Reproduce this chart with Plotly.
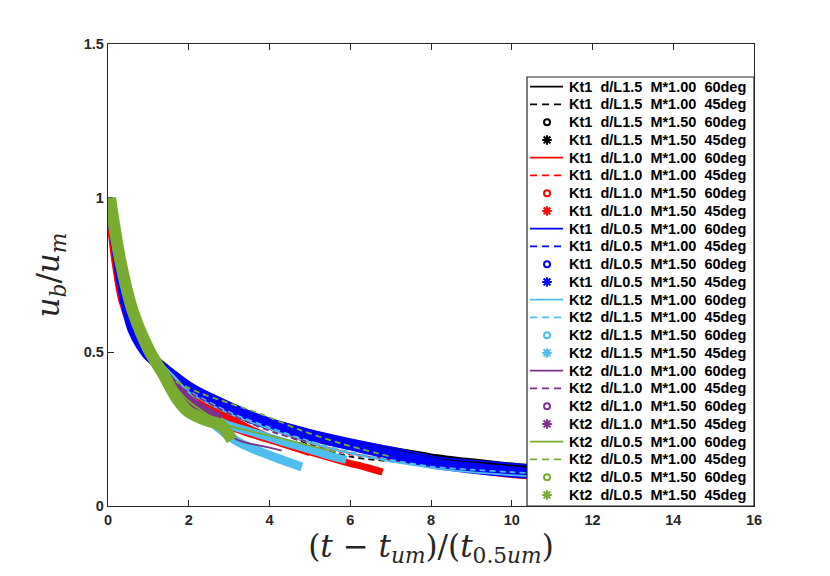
import plotly.graph_objects as go

# ---------------- data ----------------
# Kt1 d/L1.5 (black)
k1_15_a_x = [0, 0.2, 0.45, 0.7, 1, 1.5, 2, 3, 4, 5, 6, 7, 8, 9, 10, 11, 12]
k1_15_a_y = [1, 0.85, 0.70, 0.60, 0.50, 0.43, 0.38, 0.31, 0.265, 0.23, 0.20, 0.175, 0.155, 0.14, 0.125, 0.115, 0.105]
k1_15_b_x = [0, 0.2, 0.45, 0.7, 1, 1.5, 2, 3, 4, 5, 6, 7, 8, 9, 10, 11]
k1_15_b_y = [1, 0.84, 0.69, 0.59, 0.50, 0.42, 0.37, 0.30, 0.25, 0.20, 0.16, 0.145, 0.133, 0.122, 0.112, 0.105]
k1_15_c_x = [0, 0.2, 0.45, 0.7, 1, 1.5, 2, 3, 4, 5, 6, 7, 8, 9, 10, 11, 12]
k1_15_c_y = [1, 0.85, 0.70, 0.60, 0.50, 0.44, 0.39, 0.32, 0.27, 0.235, 0.205, 0.18, 0.158, 0.142, 0.128, 0.118, 0.108]
k1_15_d_x = [0, 0.2, 0.45, 0.7, 1, 1.5, 2, 3, 4, 5, 6, 7, 8, 9, 10, 11, 12]
k1_15_d_y = [1, 0.84, 0.68, 0.58, 0.50, 0.43, 0.38, 0.31, 0.265, 0.228, 0.198, 0.172, 0.152, 0.137, 0.122, 0.112, 0.103]

# Kt1 d/L1.0 (red)
k1_10_a_x = [0, 0.1, 0.2, 0.35, 0.6, 1.0, 1.5, 2, 3, 4, 5, 6, 7, 8, 9, 10, 11, 12]
k1_10_a_y = [1, 0.88, 0.78, 0.67, 0.58, 0.49, 0.43, 0.38, 0.30, 0.25, 0.205, 0.172, 0.148, 0.128, 0.11, 0.094, 0.085, 0.078]
k1_10_b_x = [0, 0.1, 0.2, 0.35, 0.6, 1.0, 1.5, 2, 3, 4, 5, 6, 7, 8, 9, 10, 11]
k1_10_b_y = [1, 0.88, 0.78, 0.67, 0.58, 0.49, 0.43, 0.38, 0.30, 0.25, 0.205, 0.168, 0.152, 0.138, 0.126, 0.116, 0.108]
k1_10_c_x = [0, 0.1, 0.2, 0.35, 0.6, 1.0, 1.5, 2, 2.8, 3.5, 4.2, 5.0]
k1_10_c_y = [1, 0.88, 0.78, 0.67, 0.58, 0.49, 0.43, 0.37, 0.30, 0.25, 0.21, 0.175]
k1_10_d_x = [0, 0.1, 0.2, 0.35, 0.6, 1.0, 1.5, 2, 2.85, 3.44, 4.1, 5.0, 5.9, 6.4, 6.8]
k1_10_d_y = [1, 0.88, 0.78, 0.67, 0.58, 0.49, 0.43, 0.36, 0.268, 0.238, 0.211, 0.176, 0.142, 0.125, 0.11]

# Kt1 d/L0.5 (blue)
k1_05_x = [0, 0.15, 0.3, 0.45, 0.6, 0.8, 1, 1.5, 2, 2.7, 3.5, 4.3, 5, 6, 7, 8.2, 9, 10, 11, 12]
k1_05_a_y = [1, 0.88, 0.75, 0.65, 0.58, 0.53, 0.49, 0.445, 0.40, 0.355, 0.308, 0.272, 0.247, 0.217, 0.19, 0.157, 0.148, 0.137, 0.127, 0.118]
k1_05_b_y = [1, 0.88, 0.75, 0.65, 0.58, 0.53, 0.49, 0.44, 0.395, 0.345, 0.298, 0.262, 0.237, 0.205, 0.178, 0.145, 0.132, 0.119, 0.109, 0.10]
k1_05_c_y = [1, 0.88, 0.75, 0.65, 0.58, 0.53, 0.49, 0.44, 0.392, 0.342, 0.295, 0.26, 0.235, 0.203, 0.172, 0.14, 0.128, 0.116, 0.106, 0.098]
k1_05_d_y = [1, 0.88, 0.74, 0.64, 0.57, 0.52, 0.485, 0.432, 0.385, 0.333, 0.285, 0.25, 0.225, 0.195, 0.165, 0.133, 0.12, 0.107, 0.098, 0.09]

# Kt2 d/L1.5 (light blue)
k2_15_a_x = [0, 0.2, 0.45, 0.7, 1, 1.5, 2, 3, 4, 5, 6, 7, 8, 9, 10, 11, 12]
k2_15_a_y = [1, 0.85, 0.70, 0.60, 0.50, 0.43, 0.37, 0.30, 0.25, 0.205, 0.17, 0.145, 0.124, 0.11, 0.10, 0.092, 0.085]
k2_15_b_x = [0, 0.2, 0.45, 0.7, 1, 1.5, 2, 3, 4, 5, 6, 7, 8, 9, 10, 11, 12]
k2_15_b_y = [1, 0.85, 0.70, 0.60, 0.50, 0.43, 0.375, 0.305, 0.255, 0.21, 0.175, 0.15, 0.128, 0.118, 0.11, 0.103, 0.097]
k2_15_c_x = [0, 0.2, 0.45, 0.7, 1, 1.5, 2, 2.85, 3.44, 4.3, 5.0, 5.5, 5.9]
k2_15_c_y = [1, 0.85, 0.70, 0.60, 0.50, 0.42, 0.35, 0.27, 0.245, 0.21, 0.183, 0.163, 0.15]
k2_15_d_x = [0, 0.2, 0.45, 0.7, 1, 1.3, 1.6, 2, 2.5, 3.2, 3.8, 4.3, 4.8]
k2_15_d_y = [1, 0.85, 0.70, 0.60, 0.50, 0.45, 0.41, 0.35, 0.28, 0.21, 0.175, 0.15, 0.127]

# Kt2 d/L1.0 (purple)
k2_10_a_x = [0, 0.2, 0.45, 0.7, 1, 1.5, 2, 2.6, 3.2, 3.8, 4.3]
k2_10_a_y = [1, 0.86, 0.71, 0.61, 0.51, 0.43, 0.36, 0.28, 0.215, 0.195, 0.18]
k2_10_b_x = [0, 0.2, 0.45, 0.7, 1, 1.5, 2, 2.7, 3.5, 4.2, 4.9]
k2_10_b_y = [1, 0.86, 0.71, 0.61, 0.51, 0.41, 0.37, 0.32, 0.27, 0.235, 0.21]
k2_10_c_x = [0, 0.2, 0.45, 0.7, 1, 1.3, 1.8, 2.3, 2.8]
k2_10_c_y = [1, 0.86, 0.71, 0.61, 0.51, 0.45, 0.37, 0.32, 0.285]
k2_10_d_x = [0, 0.2, 0.45, 0.7, 1, 1.3, 1.7, 2.1, 2.5]
k2_10_d_y = [1, 0.85, 0.70, 0.60, 0.50, 0.44, 0.37, 0.32, 0.29]

# Kt2 d/L0.5 (green)
k2_05_a_x = [0, 0.3, 0.62, 1.04, 1.4, 2, 2.9, 3.5, 4.2, 5, 5.65]
k2_05_a_y = [1, 0.80, 0.63, 0.50, 0.43, 0.34, 0.265, 0.244, 0.222, 0.196, 0.175]
k2_05_b_x = [0, 0.3, 0.62, 1.04, 1.5, 2.28, 2.77, 3.76, 4.75, 5.74, 7.0]
k2_05_b_y = [1, 0.80, 0.63, 0.50, 0.42, 0.367, 0.344, 0.30, 0.247, 0.204, 0.16]
k2_05_c_x = [0.05, 0.3, 0.62, 1.04, 1.36, 1.7, 2.0, 2.4]
k2_05_c_y = [1, 0.80, 0.63, 0.50, 0.43, 0.35, 0.31, 0.28]
k2_05_d_x = [0.05, 0.3, 0.62, 1.04, 1.36, 1.7, 2.0, 2.4, 2.8, 3.07]
k2_05_d_y = [1, 0.80, 0.63, 0.50, 0.43, 0.35, 0.305, 0.28, 0.262, 0.215]

kt_labels = ["Kt1", "Kt1", "Kt1", "Kt2", "Kt2", "Kt2"]
dl_labels = ["d/L1.5", "d/L1.0", "d/L0.5", "d/L1.5", "d/L1.0", "d/L0.5"]
m_labels = ["M*1.00", "M*1.00", "M*1.50", "M*1.50"]
deg_labels = ["60deg", "45deg", "60deg", "45deg"]
x_ticks = [0, 2, 4, 6, 8, 10, 12, 14, 16]
y_ticks = [0, 0.5, 1, 1.5]
y_tick_text = ["0", "0.5", "1", "1.5"]

# ---------------- styling ----------------
colors = ["#000000", "#FF0000", "#0000FF", "#4DBEEE", "#7E2F8E", "#77AC30"]
styles = ["solid", "dash", "circle", "asterisk"]
DASH = "6px,4px"

series = [
    [(k1_15_a_x, k1_15_a_y), (k1_15_b_x, k1_15_b_y), (k1_15_c_x, k1_15_c_y), (k1_15_d_x, k1_15_d_y)],
    [(k1_10_a_x, k1_10_a_y), (k1_10_b_x, k1_10_b_y), (k1_10_c_x, k1_10_c_y), (k1_10_d_x, k1_10_d_y)],
    [(k1_05_x, k1_05_a_y), (k1_05_x, k1_05_b_y), (k1_05_x, k1_05_c_y), (k1_05_x, k1_05_d_y)],
    [(k2_15_a_x, k2_15_a_y), (k2_15_b_x, k2_15_b_y), (k2_15_c_x, k2_15_c_y), (k2_15_d_x, k2_15_d_y)],
    [(k2_10_a_x, k2_10_a_y), (k2_10_b_x, k2_10_b_y), (k2_10_c_x, k2_10_c_y), (k2_10_d_x, k2_10_d_y)],
    [(k2_05_a_x, k2_05_a_y), (k2_05_b_x, k2_05_b_y), (k2_05_c_x, k2_05_c_y), (k2_05_d_x, k2_05_d_y)],
]
band_width = {"circle": 8, "asterisk": 9}

fig = go.Figure()
labels = []
for gi, group in enumerate(series):
    col = colors[gi]
    for si, (xs, ys) in enumerate(group):
        st = styles[si]
        name = "\u00a0 ".join([kt_labels[gi], dl_labels[gi], m_labels[si], deg_labels[si]])
        labels.append((name, col, st))
        if st in ("solid", "dash"):
            line = dict(color=col, width=1.8, dash=DASH if st == "dash" else "solid",
                        shape="spline", smoothing=0.8)
        else:
            w = band_width[st]
            if gi == 5 and st == "asterisk":
                w = 12
            if gi == 1 and st == "asterisk":
                w = 7
            line = dict(color=col, width=w, shape="spline", smoothing=0.8)
        fig.add_trace(go.Scatter(x=xs, y=ys, mode="lines", line=line,
                                 showlegend=False, hoverinfo="skip"))

# ---------------- hand-made legend box (overlay axes in plot fractions) ----------------
L_X0, L_X1, L_Y0, L_Y1 = 0.6486, 1.0, 0.0, 0.9286
ROW0_PX, ROW_STEP_PX, PLOT_BOTTOM_PX, PLOT_H_PX = 86.7, 17.75, 506.0, 462.0
SAMPLE_X0, SAMPLE_X1, MARK_X, TEXT_X = 0.6533, 0.7043, 0.6796, 0.7105

fig.add_trace(go.Scatter(x=[L_X0, L_X1, L_X1, L_X0, L_X0], y=[L_Y0, L_Y0, L_Y1, L_Y1, L_Y0],
                         mode="lines", fill="toself", fillcolor="white",
                         line=dict(color="#262626", width=1.2), xaxis="x2", yaxis="y2",
                         showlegend=False, hoverinfo="skip"))
annotations = []
for i, (name, col, st) in enumerate(labels):
    yf = (PLOT_BOTTOM_PX - (ROW0_PX + ROW_STEP_PX * i)) / PLOT_H_PX
    if st in ("solid", "dash"):
        fig.add_trace(go.Scatter(x=[SAMPLE_X0, SAMPLE_X1], y=[yf, yf], mode="lines",
                                 line=dict(color=col, width=1.8,
                                           dash="7px,5px" if st == "dash" else "solid"),
                                 xaxis="x2", yaxis="y2", showlegend=False, hoverinfo="skip"))
    else:
        sym = "circle-open" if st == "circle" else "asterisk-open"
        size = 6 if st == "circle" else 8
        fig.add_trace(go.Scatter(x=[MARK_X], y=[yf], mode="markers",
                                 marker=dict(symbol=sym, size=size, color=col,
                                             line=dict(color=col, width=2)),
                                 xaxis="x2", yaxis="y2", showlegend=False, hoverinfo="skip"))
    annotations.append(dict(x=TEXT_X, y=yf, xref="paper", yref="paper", text=name,
                            showarrow=False, xanchor="left", yanchor="middle",
                            font=dict(family="Liberation Sans, Arial, sans-serif",
                                      size=14.5, color="black", weight="bold")))

tick_font = dict(family="Liberation Sans, Arial, sans-serif", size=14.5, color="#262626", weight="bold")
axis_common = dict(showline=True, linecolor="#262626", linewidth=1.3, mirror="ticks",
                   ticks="inside", ticklen=6, tickwidth=1.3, tickcolor="#262626",
                   showgrid=False, zeroline=False, tickfont=tick_font, layer="below traces")

fig.update_layout(
    width=830, height=576,
    margin=dict(l=100, r=84, t=36, b=78),
    paper_bgcolor="white", plot_bgcolor="white",
    showlegend=False,
    xaxis=dict(range=[0, 16], tickvals=x_ticks, ticktext=[str(v) for v in x_ticks],
               title=dict(text="(<i>t</i> \u2212 <i>t</i><sub><i>um</i></sub>)/(<i>t</i><sub>0.5<i>um</i></sub>)",
                          font=dict(family="DejaVu Serif, serif", size=31, color="#262626"),
                          standoff=4),
               **axis_common),
    yaxis=dict(range=[0, 1.5], tickvals=y_ticks, ticktext=y_tick_text,
               title=dict(text="<i>u</i><sub><i>b</i></sub>/<i>u</i><sub><i>m</i></sub>",
                          font=dict(family="DejaVu Serif, serif", size=31, color="#262626"),
                          standoff=14),
               **axis_common),
    xaxis2=dict(overlaying="x", range=[0, 1], visible=False, fixedrange=True),
    yaxis2=dict(overlaying="y", range=[0, 1], visible=False, fixedrange=True),
    annotations=annotations,
)

fig.write_html("out.html")
